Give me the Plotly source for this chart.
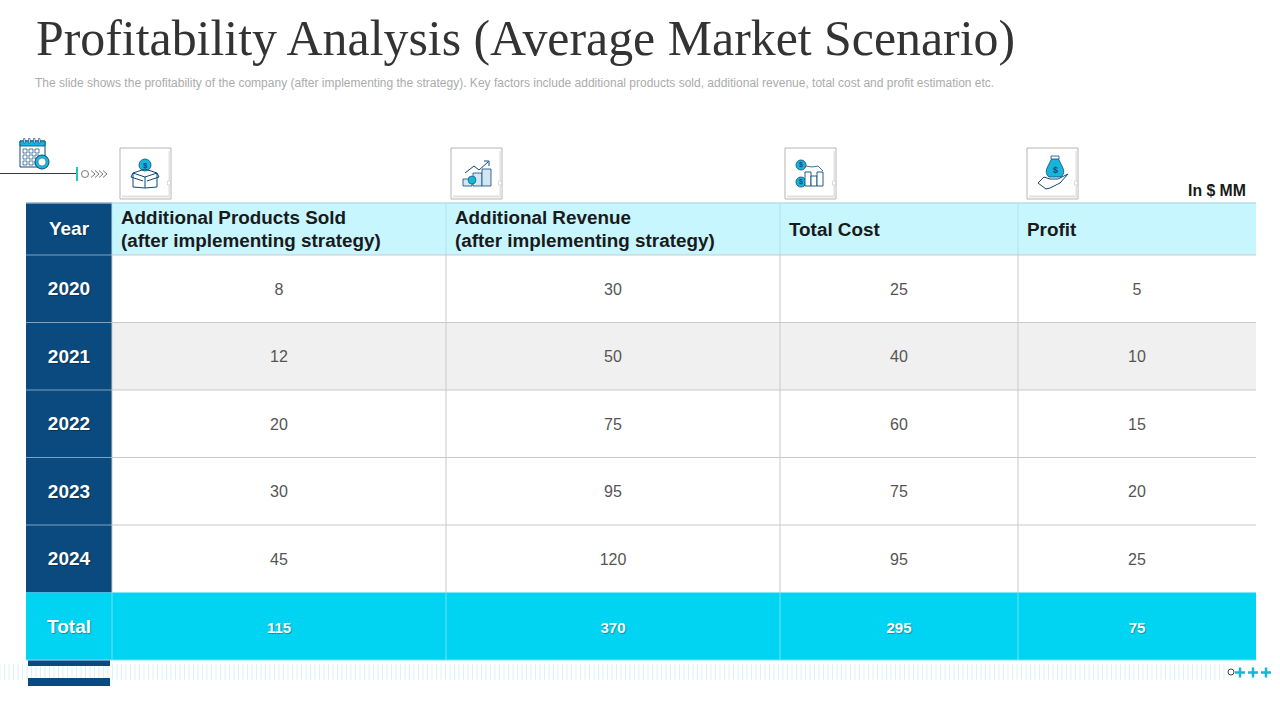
import plotly.graph_objects as go

# ---------- data ----------
TITLE = "Profitability Analysis (Average Market Scenario)"
SUBTITLE = ("The slide shows the profitability of the company (after implementing the strategy). "
            "Key factors include additional products sold, additional revenue, total cost and profit estimation etc.")
UNIT = "In $ MM"
year_header = "Year"
header_lines = [["Additional Products Sold", "(after implementing strategy)"],
                ["Additional Revenue", "(after implementing strategy)"],
                ["Total Cost"],
                ["Profit"]]
years = ["2020", "2021", "2022", "2023", "2024"]
total_label = "Total"
products = [8, 12, 20, 30, 45]
revenue = [30, 50, 75, 95, 120]
cost = [25, 40, 60, 75, 95]
profit = [5, 10, 15, 20, 25]
totals = [115, 370, 295, 75]

# ---------- layout constants ----------
NAVY, CYAN, PALE, TEAL = "#0b4a7e", "#00d4f2", "#c8f6fe", "#17b6d8"
W, H = 1280, 720
col_edges = [26, 112, 446, 780, 1018, 1256]
row_edges = [203, 255, 322.5, 390, 457.5, 525, 592.5, 660]
GRID = "#c9c9c9"
SHADOW = "1px 1px 1px rgba(0,0,0,0.3)"

col_mid = [(a + b) / 2 for a, b in zip(col_edges, col_edges[1:])]
row_mid = [(a + b) / 2 for a, b in zip(row_edges, row_edges[1:])]

shapes = []


def rect(x0, y0, x1, y1, fill=None, line=None, lw=1, layer="above"):
    shapes.append(dict(type="rect", xref="x", yref="y", x0=x0, y0=y0, x1=x1, y1=y1, layer=layer,
                       fillcolor=fill or "rgba(0,0,0,0)",
                       line=dict(color=line or "rgba(0,0,0,0)", width=lw if line else 0)))


def circ(cx, cy, r, fill=None, line=None, lw=1):
    shapes.append(dict(type="circle", xref="x", yref="y", x0=cx - r, y0=cy - r, x1=cx + r, y1=cy + r,
                       fillcolor=fill or "rgba(0,0,0,0)",
                       line=dict(color=line or "rgba(0,0,0,0)", width=lw if line else 0)))


def path(d, line=NAVY, lw=1, fill=None, layer="above"):
    shapes.append(dict(type="path", xref="x", yref="y", path=d, fillcolor=fill or "rgba(0,0,0,0)",
                       line=dict(color=line, width=lw), layer=layer))


# ---------- table body ----------
rect(col_edges[1], row_edges[0], col_edges[-1], row_edges[1], fill=PALE, layer="below")
rect(col_edges[0], row_edges[0], col_edges[1], row_edges[-2], fill=NAVY, layer="below")
rect(col_edges[1], row_edges[2], col_edges[-1], row_edges[3], fill="#f0f0f0", layer="below")
rect(col_edges[0], row_edges[-2], col_edges[-1], row_edges[-1], fill=CYAN, layer="below")
# grid lines
path(f"M{col_edges[1]} {row_edges[0]} L{col_edges[-1]} {row_edges[0]}", line="#b6dfe6", lw=1.5, layer="below")
path(f"M{col_edges[0]} {row_edges[0]} L{col_edges[1]} {row_edges[0]}", line="#8fb0c8", lw=1.5, layer="below")
for y in row_edges[1:-2]:
    path(f"M{col_edges[1]} {y} L{col_edges[-1]} {y}", line=GRID, lw=1, layer="below")
    path(f"M{col_edges[0]} {y} L{col_edges[1]} {y}", line="#7fa3bf", lw=1, layer="below")
for x in col_edges[1:-1]:
    path(f"M{x} {row_edges[0]} L{x} {row_edges[1]}", line="#b6dfe6", lw=1, layer="below")
    path(f"M{x} {row_edges[1]} L{x} {row_edges[-2]}", line=GRID, lw=1, layer="below")
    path(f"M{x} {row_edges[-2]} L{x} {row_edges[-1]}", line="#6fe4f6", lw=1, layer="below")
path(f"M{col_edges[0]} {row_edges[-1]} L{col_edges[-1]} {row_edges[-1]}", line="#6fe4f6", lw=1, layer="below")

traces = []

# decorative tick strip along the bottom
strip_x = [i * 4.5 for i in range(273)]
traces.append(go.Scatter(x=strip_x, y=[672] * len(strip_x), mode="markers", hoverinfo="skip", showlegend=False,
                         marker=dict(symbol="line-ns", size=11, line=dict(color="#d8f3f8", width=1))))


def text_trace(xs, ys, labels, color, size, position="middle center", shadow="none"):
    traces.append(go.Scatter(x=xs, y=ys, text=labels, mode="text", textposition=position,
                             hoverinfo="skip", showlegend=False,
                             textfont=dict(family="Liberation Sans", size=size, color=color, shadow=shadow)))


# year column
text_trace([col_mid[0]] * 7, [y + 1.5 for y in row_mid],
           [f"<b>{v}</b>" for v in [year_header] + years + [total_label]], "#ffffff", 19, shadow=SHADOW)
# header row
hx, hy, ht = [], [], []
for edge, lines in zip(col_edges[1:], header_lines):
    offsets = [-9.5, 13.5] if len(lines) == 2 else [2]
    for off, line in zip(offsets, lines):
        hx.append(edge + 9)
        hy.append(row_mid[0] + off)
        ht.append(f"<b>{line}</b>")
text_trace(hx, hy, ht, "#1a1a1a", 18.85, "middle right")
# body values
for xc, col in zip(col_mid[1:], (products, revenue, cost, profit)):
    text_trace([xc] * len(col), [y + 2 for y in row_mid[1:6]], [str(v) for v in col], "#555555", 16)
# totals
text_trace(col_mid[1:], [row_mid[6] + 2.5] * 4, [f"<b>{v}</b>" for v in totals], "#ffffff", 15, shadow=SHADOW)

fig = go.Figure(traces)

# ---------- icon cards ----------
for cx in (120, 451, 785, 1027):
    rect(cx, 148, cx + 51, 199, fill="#ffffff", line="#b5b5b5")
    rect(cx + 48.5, 151, cx + 50.5, 197, fill="#e2e2e2")
    rect(cx + 2, 195.5, cx + 50, 197.5, fill="#e2e2e2")
    rect(cx + 47.5, 181, cx + 50.5, 185, fill="#ffffff", line="#c4c4c4", lw=0.6)

# box icon
circ(145, 165, 6, fill=TEAL, line=NAVY, lw=0.8)
path("M133 173 L145 169 L157 173 L145 177 Z M133 173 L133 187 L145 188 L157 187 L157 173 M145 177 L145 188 "
     "M133 173 L131 177 L143 181 M157 173 L159 177 L147 181", lw=1)
# growth icon
path("M465 173 L474 166 L479 170 L488 162 M484 161 L489 161 L489 166", lw=1)
for x0, y0 in ((463, 179), (473, 173), (482, 169)):
    rect(x0, y0, x0 + 9, 186, fill="#d3e6f2", line=NAVY, lw=0.8)
circ(472, 180, 4, fill=TEAL, line=NAVY, lw=0.6)
# cost icon
circ(801, 165, 5, fill=TEAL, line=NAVY, lw=0.8)
circ(801, 182, 5, fill=TEAL, line=NAVY, lw=0.8)
path("M806 166 L812 167 L818 166 L823 171", lw=0.8)
for x0, y0 in ((805, 172), (811, 176), (817, 172)):
    rect(x0, y0, x0 + 6, 186, line=NAVY, lw=0.9, fill="#ffffff")
# profit icon
path("M1048 166 L1052 158 L1058 158 L1062 166 Q1066 173 1061 177 L1049 177 Q1044 173 1048 166 Z",
     fill=TEAL, lw=0.8)
rect(1051, 156, 1059, 159, line=NAVY, lw=0.8, fill="#ffffff")
path("M1038 183 L1044 177 L1050 179 L1058 179 L1068 174 L1060 183 L1050 188 L1046 189 Z", lw=1)

# calendar + connector
rect(20, 141, 45, 167, fill="#ffffff", line=NAVY, lw=1)
rect(20, 141, 45, 146, fill=TEAL, line=NAVY, lw=0.8)
for cx in (24, 29, 34, 39):
    rect(cx - 0.5, 138.5, cx + 1, 143, fill="#ffffff", line=NAVY, lw=0.6)
for gx in (23, 29, 35):
    for gy in (149, 155, 161):
        rect(gx, gy, gx + 4, gy + 4, line=NAVY, lw=0.7)
circ(42, 162, 7, fill=TEAL, line=NAVY, lw=1)
circ(42, 162, 4, fill="#ffffff", line=NAVY, lw=0.5)
path("M0 173.5 L77 173.5", lw=1)
rect(76, 167, 78, 181, fill="#1ec7c7")
circ(85, 174, 3.5, line="#555555", lw=0.8)
for cx in (91, 95, 99, 103):
    path(f"M{cx} 170.5 L{cx + 4} 174 L{cx} 177.5", line="#555555", lw=0.8)

# footer
rect(28, 660.5, 110, 666, fill=NAVY)
rect(28, 678, 110, 686, fill=NAVY)
circ(1231, 672, 3, fill="#ffffff", line="#444444", lw=1)
for cx in (1240, 1253, 1266):
    path(f"M{cx - 5} 672.5 L{cx + 5} 672.5 M{cx} 667.5 L{cx} 677.5", line=TEAL, lw=2.5)

annos = [
    dict(text=TITLE, x=34, y=38, xanchor="left", font=dict(family="Liberation Serif", size=49.85, color="#333333")),
    dict(text=SUBTITLE, x=33, y=83, xanchor="left", font=dict(family="Liberation Sans", size=12, color="#ababab")),
    dict(text=f"<b>{UNIT}</b>", x=1248, y=190, xanchor="right", font=dict(family="Liberation Sans", size=15.8, color="#1a1a1a")),
    dict(text="<b>$</b>", x=145, y=165, font=dict(family="Liberation Sans", size=8, color=NAVY)),
    dict(text="<b>$</b>", x=801, y=165, font=dict(family="Liberation Sans", size=7, color=NAVY)),
    dict(text="<b>$</b>", x=801, y=182, font=dict(family="Liberation Sans", size=7, color=NAVY)),
    dict(text="<b>$</b>", x=1055, y=170, font=dict(family="Liberation Sans", size=9, color=NAVY)),
]
for a in annos:
    a.update(xref="x", yref="y", showarrow=False, yanchor="middle")

fig.update_layout(
    width=W, height=H, margin=dict(l=0, r=0, t=0, b=0),
    paper_bgcolor="#ffffff", plot_bgcolor="#ffffff", showlegend=False,
    xaxis=dict(visible=False, range=[0, W], domain=[0, 1], fixedrange=True),
    yaxis=dict(visible=False, range=[H, 0], domain=[0, 1], fixedrange=True),
    shapes=shapes, annotations=annos,
)
fig.write_html("out.html", config={"displayModeBar": False}, post_script="document.body.style.margin='0';")
